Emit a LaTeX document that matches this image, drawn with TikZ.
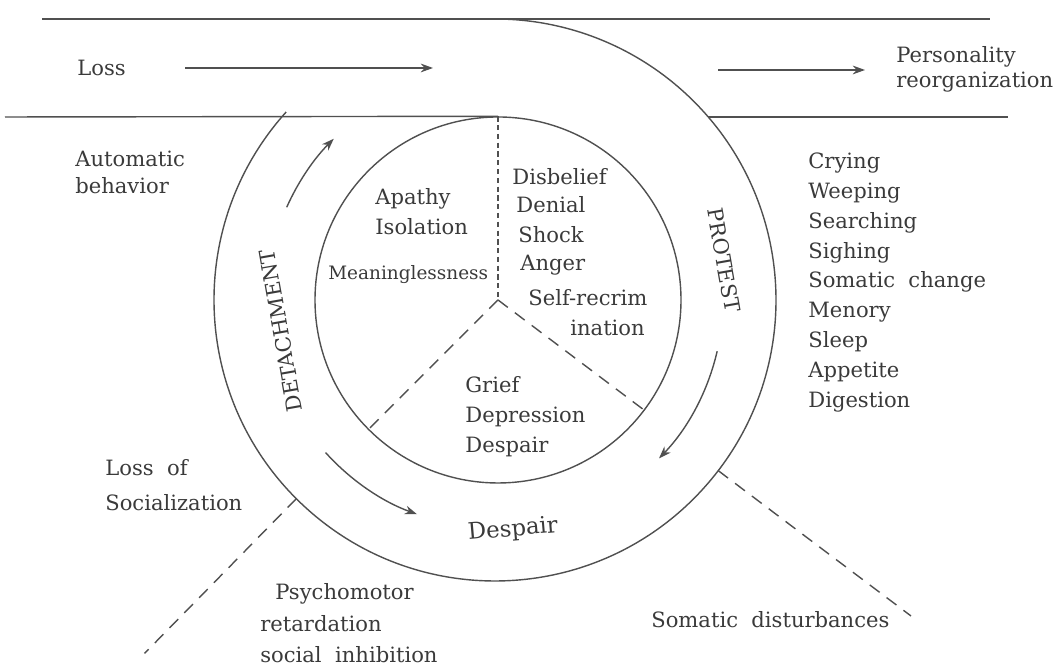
\documentclass[tikz,border=0pt]{standalone}
\usepackage{fontspec}
\setmainfont{DejaVu Serif}
\usepackage{xcolor}
\usepackage{tikz}
\usetikzlibrary{arrows.meta}
\definecolor{ink}{HTML}{3A3A3A}
\definecolor{rule}{HTML}{505050}

\begin{document}
\begin{tikzpicture}[font=\fontsize{12}{17}\selectfont, color=ink,
  lbl/.style={inner sep=0pt, anchor=west, align=left},
  edge/.style={line width=0.8pt, rule},
  flow/.style={edge, -{Stealth[length=7pt,width=5pt]}},
  cut/.style={edge, dash pattern=on 7pt off 5pt},
  axis/.style={edge, dash pattern=on 3pt off 2pt}]
  \useasboundingbox (0,0) rectangle (21.12,13.32);
  \coordinate (o) at (9.90,7.32);
  \node[circle, draw=rule, line width=0.8pt, minimum size=7.32cm, inner sep=0pt] (core) at (9.96,7.32) {};
  \draw[edge] (0.84,12.94) -- (19.80,12.94);
  \draw[edge] (0.10,10.98) -- (core.north);
  \draw[edge] (14.16,10.98) -- (20.16,10.98);
  \draw[edge] ([shift={(138:5.62)}]o) arc[start angle=138, end angle=450, radius=5.62];
  \node[lbl] (loss) at (1.54,11.96) {Loss};
  \coordinate (a1) at (3.70,11.96);
  \coordinate (a2) at (8.66,11.96);
  \draw[flow] (a1) -- (a2);
  \coordinate (b1) at (14.36,11.92);
  \coordinate (b2) at (17.30,11.92);
  \draw[flow] (b1) -- (b2);
  \node[lbl, font=\fontsize{12}{14}\selectfont] (reorg) at (17.92,11.93) {Personality\\reorganization};
  \draw[axis] (core.north) -- (core.center);
  \draw[cut] (core.center) -- (core.225);
  \draw[cut] (core.center) -- (core.-37);
  \coordinate (s1) at ([shift={(225:5.62)}]o);
  \coordinate (s2) at (2.89,0.25);
  \draw[cut] (s1) -- (s2);
  \coordinate (t1) at ([shift={(-37.4:5.62)}]o);
  \coordinate (t2) at (18.22,1.00);
  \draw[cut] (t1) -- (t2);
  \draw[flow] ([shift={(156:4.56)}]o) arc[start angle=156, end angle=135, radius=4.56];
  \draw[flow] ([shift={(222:4.56)}]o) arc[start angle=222, end angle=250, radius=4.56];
  \draw[flow] ([shift={(-13:4.56)}]o) arc[start angle=-13, end angle=-44, radius=4.56];
  \node[lbl, font=\fontsize{12}{15}\selectfont] (auto) at (1.50,9.87) {Automatic\\behavior};
  \node[lbl] (apathy) at (7.50,9.08) {Apathy\\Isolation};
  \node[lbl, font=\fontsize{10.5}{12}\selectfont] (mean) at (6.56,7.82) {Meaninglessness};
  \foreach \x/\y/\t [count=\i] in {10.24/9.78/Disbelief, 10.32/9.22/Denial, 10.36/8.62/Shock, 10.40/8.02/Anger, 10.56/7.36/Self-recrim, 11.40/6.76/ination}
    \node[lbl] (shock\i) at (\x,\y) {\t};
  \node[lbl] (grief) at (9.30,4.98) {Grief\\Depression\\Despair};
  \node[inner sep=0pt, rotate=100] (detach) at (5.62,6.70) {DETACHMENT};
  \node[inner sep=0pt, rotate=-80] (protest) at (14.48,8.12) {PROTEST};
  \node[inner sep=0pt, rotate=5, font=\fontsize{13}{15}\selectfont] (despair) at (10.26,2.72) {Despair};
  \node[lbl] (signs) at (16.16,7.67) {Crying\\Weeping\\Searching\\Sighing\\Somatic\ \ change\\Menory\\Sleep\\Appetite\\Digestion};
  \node[lbl, font=\fontsize{12}{20}\selectfont] (social) at (2.10,3.61) {Loss\ \ of\\Socialization};
  \node[lbl, font=\fontsize{12}{18}\selectfont] (psycho) at (5.20,0.85) {\hspace*{0.3cm}Psychomotor\\retardation\\social\ \ inhibition};
  \node[lbl] (somatic) at (13.02,0.92) {Somatic\ \ disturbances};
\end{tikzpicture}
\end{document}
